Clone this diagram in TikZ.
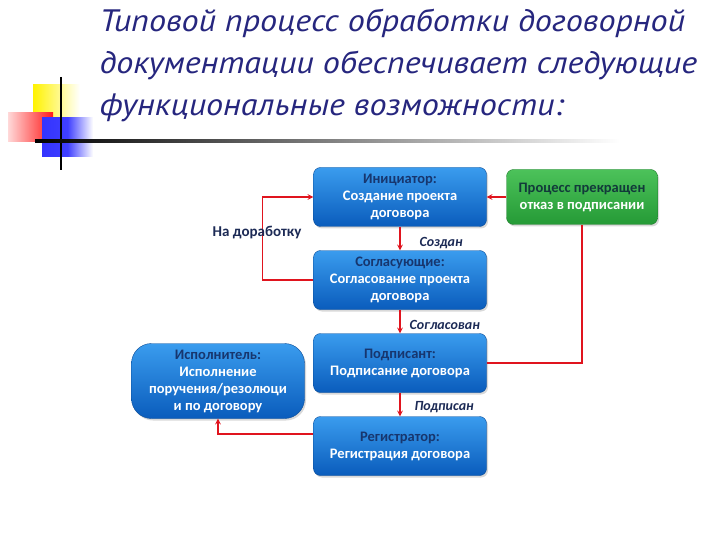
\documentclass[tikz,border=0pt]{standalone}
\usepackage{fontspec}
\setmainfont{Carlito}
\newfontfamily\titlefont[FakeStretch=1.1]{PT Sans}
\usepackage{xcolor}
\usetikzlibrary{positioning, arrows, shadows}

\definecolor{boxtop}{HTML}{3A9CEE}
\definecolor{boxbot}{HTML}{0A5CBC}
\definecolor{greentop}{HTML}{4CC25A}
\definecolor{greenbot}{HTML}{259A36}
\definecolor{rolecol}{HTML}{17366E}
\definecolor{stopcol}{HTML}{123A3A}
\definecolor{titlecol}{HTML}{26267E}
\definecolor{linkred}{HTML}{E0141E}
\definecolor{labelcol}{HTML}{1C2A55}

\tikzset{
  stage/.style={rounded corners=7pt, minimum width=173pt, minimum height=59pt,
    top color=boxtop, bottom color=boxbot, draw=boxbot!80!black, line width=0.4pt,
    align=center, text=white, font=\bfseries\fontsize{14.5}{17}\selectfont,
    drop shadow={shadow xshift=1.5pt, shadow yshift=-2pt, opacity=0.3}},
  stopbox/.style={stage, top color=greentop, bottom color=greenbot,
    draw=greenbot!80!black, minimum width=151pt, minimum height=55pt},
  link/.style={draw=linkred, line width=1.5pt},
  status/.style={font=\bfseries\itshape\fontsize{14}{16}\selectfont, text=labelcol, anchor=west}
}

\begin{document}
\begin{tikzpicture}[x=1pt, y=-1pt, >=stealth, node distance=83pt, on grid]
  \useasboundingbox (0,0) rectangle (720,540);

  % decoration at the title
  \fill[left color=yellow!90!orange, right color=white] (33,85) rectangle (80,123);
  \fill[left color=red!15, right color=red!90] (8,113) rectangle (53,142);
  \fill[left color=blue!80, right color=white, middle color=blue!75] (42,118) rectangle (93,157);
  \draw[line width=2pt] (61,77) -- (61,170);
  \shade[left color=black, right color=white] (35,140) rectangle (620,142.5);

  % title
  \node[anchor=north west, align=left, text=titlecol,
        font=\titlefont\itshape\fontsize{31}{42}\selectfont] (title) at (96,5)
    {Типовой процесс обработки договорной\\
     документации обеспечивает следующие\\
     функциональные возможности:};

  % main chain of stages
  \node[stage] (init) at (400,197) {{\color{rolecol}Инициатор:}\\Создание проекта\\договора};
  \node[stage, below=of init] (agree) {{\color{rolecol}Согласующие:}\\Согласование проекта\\договора};
  \node[stage, below=of agree] (sign) {{\color{rolecol}Подписант:}\\Подписание договора};
  \node[stage, below=of sign] (reg) {{\color{rolecol}Регистратор:}\\Регистрация договора};

  % side boxes
  \node[stage, rounded corners=20pt, minimum height=75pt, below left=18pt and 182pt of sign] (exec)
    {{\color{rolecol}Исполнитель:}\\Исполнение\\поручения/резолюци\\и по договору};
  \node[stopbox, right=182pt of init] (stop) {{\color{stopcol}Процесс прекращен}\\отказ в подписании};

  % connectors
  \draw[link, ->] (init) -- (agree);
  \draw[link, ->] (agree) -- (sign);
  \draw[link, ->] (sign) -- (reg);
  \draw[link, ->] (stop) -- (init);
  \draw[link, ->] (agree.west) -- ++(-51,0) coordinate (back) |- (init.west);
  \draw[link] (sign.east) -| (stop.south);
  \draw[link, ->] ([yshift=12pt]reg.west) -| (exec.south);

  % labels
  \node[font=\bfseries\fontsize{15}{17}\selectfont, text=labelcol, anchor=east] (rework) at (305,233) {На доработку};
  \node[status] (made) at (416,243) {Создан};
  \node[status] (agreed) at (406,325) {Согласован};
  \node[status] (signed) at (411,407) {Подписан};
\end{tikzpicture}
\end{document}
